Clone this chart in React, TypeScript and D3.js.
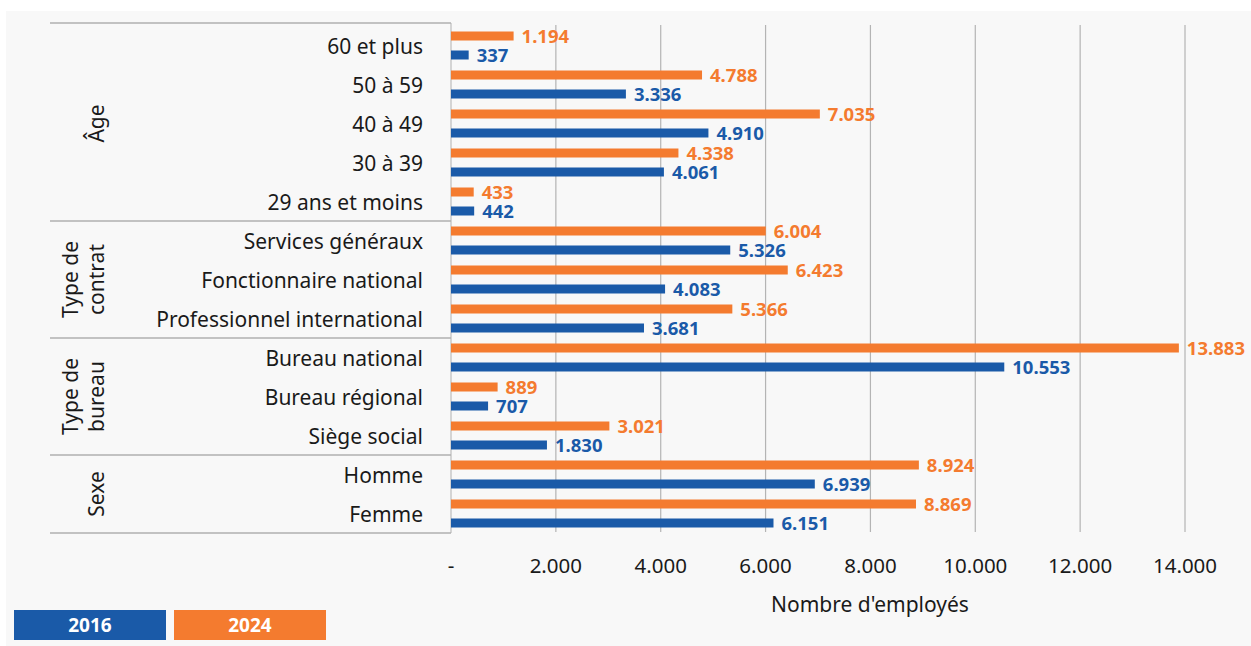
import React from "react";
import * as d3 from "d3";

const categories = [
  "60 et plus",
  "50 à 59",
  "40 à 49",
  "30 à 39",
  "29 ans et moins",
  "Services généraux",
  "Fonctionnaire national",
  "Professionnel international",
  "Bureau national",
  "Bureau régional",
  "Siège social",
  "Homme",
  "Femme",
];
const values2024 = [1194, 4788, 7035, 4338, 433, 6004, 6423, 5366, 13883, 889, 3021, 8924, 8869];
const values2016 = [337, 3336, 4910, 4061, 442, 5326, 4083, 3681, 10553, 707, 1830, 6939, 6151];
const groups = [
  { lines: ["Âge"], start: 0, count: 5 },
  { lines: ["Type de", "contrat"], start: 5, count: 3 },
  { lines: ["Type de", "bureau"], start: 8, count: 3 },
  { lines: ["Sexe"], start: 11, count: 2 },
];
const xTicks = [0, 2000, 4000, 6000, 8000, 10000, 12000, 14000];
const seriesNames = ["2016", "2024"];
const axisTitle = "Nombre d'employés";

const BLUE = "#1a5aa8";
const ORANGE = "#f47b2f";
const FONT = "'Noto Sans', 'Open Sans', sans-serif";

const locale = d3.formatLocale({ decimal: ",", thousands: ".", grouping: [3], currency: ["", ""] });
const fmt = locale.format(",d");

export default function App() {
  const W = 1251;
  const H = 646;
  const x = d3.scaleLinear().domain([0, 14000]).range([451, 1185]);
  const y = d3.scaleBand<string>().domain(categories).range([26, 533]);
  const sub = d3
    .scaleBand<string>()
    .domain(["2024", "2016"])
    .range([-14, 14])
    .paddingInner(0.526);
  const bw = sub.bandwidth();
  const bandTop = (i: number) => (y(categories[i]) as number);
  const step = y.step();

  const groupLineYs = [23, ...groups.map((g) => bandTop(g.start) + g.count * step)];

  return (
    <svg
      width={W}
      height={H}
      style={{ position: "absolute", left: 0, top: 0, display: "block" }}
      fontFamily={FONT}
    >
      <rect x={0} y={0} width={W} height={H} fill="#ffffff" />
      <rect x={6} y={11} width={W - 6} height={H - 11} fill="#f8f8f8" />

      {/* gridlines */}
      {xTicks.slice(1).map((t) => (
        <line key={t} x1={x(t)} x2={x(t)} y1={25} y2={532} stroke="#b4b4b4" strokeWidth={1.2} />
      ))}

      {/* category axis line */}
      <line x1={x(0)} x2={x(0)} y1={23} y2={533} stroke="#c8c8c8" strokeWidth={1.5} />

      {/* group separator lines */}
      {groupLineYs.map((gy, i) => (
        <line key={i} x1={50} x2={451} y1={gy} y2={gy} stroke="#b0b0b0" strokeWidth={1.5} />
      ))}

      {/* bars */}
      {categories.map((c, i) => {
        const cy = (y(c) as number) + y.bandwidth() / 2;
        const yo = cy + (sub("2024") as number);
        const yb = cy + (sub("2016") as number);
        return (
          <g key={c}>
            <rect x={x(0)} y={yo} width={x(values2024[i]) - x(0)} height={bw} fill={ORANGE} />
            <rect x={x(0)} y={yb} width={x(values2016[i]) - x(0)} height={bw} fill={BLUE} />
            <text
              x={x(values2024[i]) + 8}
              y={yo + bw / 2}
              dy="0.36em"
              fontSize={18.5}
              fontWeight="bold"
              fill={ORANGE}
            >
              {fmt(values2024[i])}
            </text>
            <text
              x={x(values2016[i]) + 8}
              y={yb + bw / 2}
              dy="0.36em"
              fontSize={18.5}
              fontWeight="bold"
              fill={BLUE}
            >
              {fmt(values2016[i])}
            </text>
            <text x={423} y={cy + 1} dy="0.36em" textAnchor="end" fontSize={21} fill="#1a1a1a">
              {c}
            </text>
          </g>
        );
      })}

      {/* group labels */}
      {groups.map((g, gi) => {
        const cy = bandTop(g.start) + (g.count * step) / 2;
        const lineGap = 26;
        const n = g.lines.length;
        return (
          <g key={gi}>
            {g.lines.map((l, li) => {
              const cx = 96 - (n - 1 - li) * lineGap;
              return (
                <text
                  key={li}
                  transform={`translate(${cx},${cy}) rotate(-90)`}
                  textAnchor="middle"
                  dy="0.36em"
                  fontSize={21}
                  fill="#1a1a1a"
                >
                  {l}
                </text>
              );
            })}
          </g>
        );
      })}

      {/* x tick labels */}
      {xTicks.map((t) => (
        <text key={t} x={x(t)} y={566} dy="0.36em" textAnchor="middle" fontSize={20.5} fill="#1a1a1a">
          {t === 0 ? "-" : fmt(t)}
        </text>
      ))}
      <text x={870} y={604} dy="0.36em" textAnchor="middle" fontSize={21} fill="#1a1a1a">
        {axisTitle}
      </text>

      {/* legend */}
      {seriesNames.map((s, i) => {
        const lx = 14 + i * 160;
        return (
          <g key={s}>
            <rect x={lx} y={610} width={152} height={30} fill={s === "2016" ? BLUE : ORANGE} />
            <text
              x={lx + 76}
              y={625}
              dy="0.36em"
              textAnchor="middle"
              fontSize={19}
              fontWeight="bold"
              fill="#ffffff"
            >
              {s}
            </text>
          </g>
        );
      })}
    </svg>
  );
}
